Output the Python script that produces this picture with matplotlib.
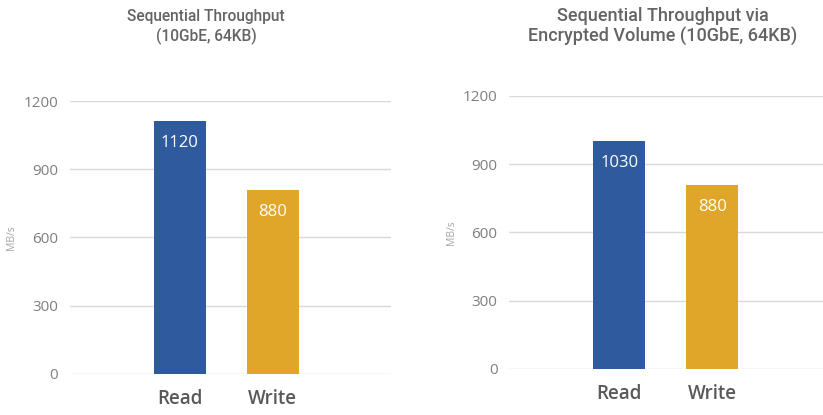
import matplotlib
matplotlib.use("Agg")
import matplotlib.pyplot as plt

plt.rcParams['font.family'] = ['Open Sans', 'DejaVu Sans']

categories = ["Read", "Write"]
# bar heights as drawn in the picture, and the labels printed on them
plain_values = [1112, 808]
plain_labels = ["1120", "880"]
enc_values = [1002, 808]
enc_labels = ["1030", "880"]
yticks = [0, 300, 600, 900, 1200]

titles = ["Sequential Throughput\n(10GbE, 64KB)",
          "Sequential Throughput via\nEncrypted Volume (10GbE, 64KB)"]
colors = ["#2F5B9E", "#E0A62A"]

fig = plt.figure(figsize=(8.23, 4.15), dpi=100)
ax1 = fig.add_axes([0.0851, 0.0995, 0.3896, 0.6571])
ax2 = fig.add_axes([0.6188, 0.1116, 0.3806, 0.6571])


def draw(ax, values, labels, lo, hi, label_x):
    x = range(len(categories))
    bars = ax.bar(x, values, width=0.56, color=colors, zorder=3)
    for b, lab in zip(bars, labels):
        ax.annotate(lab, (b.get_x() + b.get_width() / 2, b.get_height()),
                    xytext=(0, -22), textcoords="offset pixels",
                    ha="center", va="center", color="white", fontsize=12)
    ax.set_xlim(lo, hi)
    ax.set_ylim(0, 1200)
    ax.set_yticks(yticks)
    ax.set_xticks(list(x))
    ax.set_xticklabels(categories, fontsize=13.5, color="#595959", fontweight="semibold")
    ax.tick_params(axis="y", length=0, pad=8.5, labelsize=11, labelcolor="#7f7f7f")
    ax.tick_params(axis="x", length=0, pad=11)
    ax.grid(axis="y", color="#d9d9d9", linewidth=1, zorder=0)
    for s in ax.spines.values():
        s.set_visible(False)
    ax.set_ylabel("MB/s", fontsize=7.5, color="#a6a6a6")
    ax.yaxis.set_label_coords(label_x, 0.5)


draw(ax1, plain_values, plain_labels, -1.181, 2.267, -0.165)
draw(ax2, enc_values, enc_labels, 0.5 - 1.685, 0.5 + 1.685, -0.167)

fig.text(206 / 823, 1 - 27 / 415, titles[0], ha="center", va="center",
         family=["Roboto", "DejaVu Sans"], fontsize=11.2, fontweight="medium",
         color="#646464", linespacing=1.32)
fig.text(663 / 823, 1 - 26.5 / 415, titles[1], ha="center", va="center",
         family=["Roboto", "DejaVu Sans"], fontsize=13, fontweight="medium",
         color="#646464", linespacing=1.12)

fig.savefig("out.png", dpi=100, facecolor="white")
